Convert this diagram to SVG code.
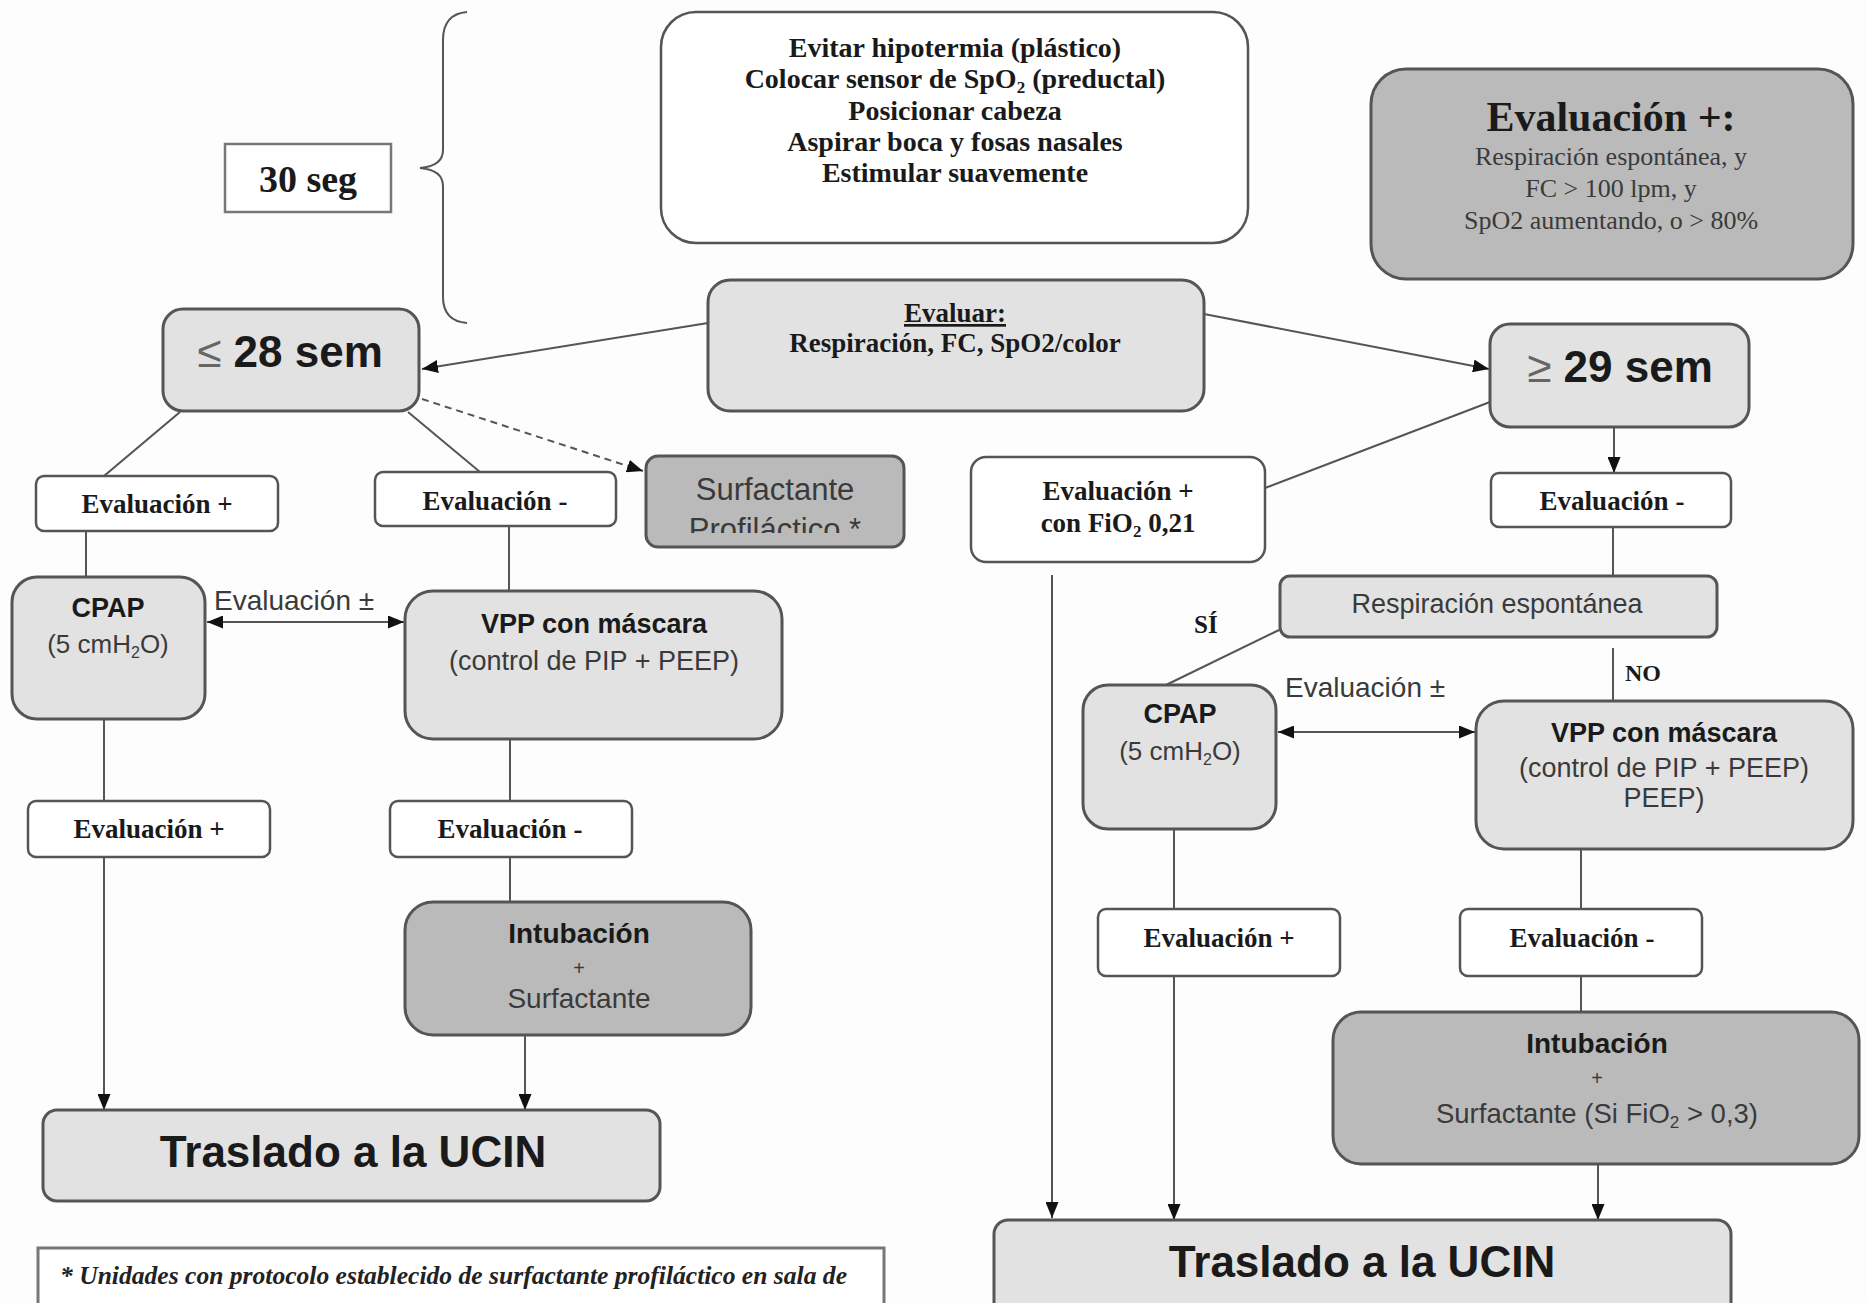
<svg xmlns="http://www.w3.org/2000/svg" width="1866" height="1303" viewBox="0 0 1866 1303">
<style>
.bg{fill:#fdfdfd}
.w{fill:#ffffff;stroke:#555;stroke-width:2.5}
.l{fill:#e2e2e2;stroke:#555;stroke-width:3}
.d{fill:#bababa;stroke:#555;stroke-width:3}
.c{fill:none;stroke:#555;stroke-width:2}
.sb{font-family:"Liberation Serif",serif;font-weight:bold;fill:#1a1a1a;text-anchor:middle}
.sr{font-family:"Liberation Serif",serif;fill:#3a3a3a;text-anchor:middle}
.nb{font-family:"Liberation Sans",Arial,sans-serif;font-weight:bold;fill:#1a1a1a;text-anchor:middle}
.nr{font-family:"Liberation Sans",Arial,sans-serif;fill:#3a3a3a;text-anchor:middle}
.st{text-anchor:start}
</style>
<defs>
<marker id="ah" viewBox="0 0 16 13" refX="16" refY="6.5" markerWidth="16" markerHeight="13" markerUnits="userSpaceOnUse" orient="auto-start-reverse">
<path d="M0,0 L16,6.5 L0,13 z" fill="#111"/>
</marker>
<clipPath id="clipSurf"><rect x="646" y="456" width="258" height="77"/></clipPath>
</defs>
<rect class="bg" x="0" y="0" width="1866" height="1303"/>

<g id="connectors">
<path class="c" d="M467,12 Q443,14 443,40 L443,150 Q443,166 420,168 Q443,170 443,186 L443,297 Q443,321 467,323"/>
<line class="c" x1="708" y1="323" x2="422" y2="369" marker-end="url(#ah)"/>
<line class="c" x1="1204" y1="314" x2="1489" y2="369" marker-end="url(#ah)"/>
<line class="c" x1="180" y1="412" x2="104" y2="476"/>
<line class="c" x1="408" y1="412" x2="480" y2="472"/>
<line class="c" x1="422" y1="399" x2="643" y2="471" stroke-dasharray="7,5" marker-end="url(#ah)"/>
<line class="c" x1="86" y1="531" x2="86" y2="577"/>
<line class="c" x1="509" y1="526" x2="509" y2="591"/>
<line class="c" x1="207" y1="622" x2="404" y2="622" stroke-width="3" marker-start="url(#ah)" marker-end="url(#ah)"/>
<line class="c" x1="104" y1="719" x2="104" y2="801"/>
<line class="c" x1="510" y1="739" x2="510" y2="801"/>
<line class="c" x1="104" y1="857" x2="104" y2="1110" marker-end="url(#ah)"/>
<line class="c" x1="510" y1="857" x2="510" y2="902"/>
<line class="c" x1="525" y1="1035" x2="525" y2="1110" marker-end="url(#ah)"/>
<line class="c" x1="1490" y1="402" x2="1265" y2="488"/>
<line class="c" x1="1614" y1="427" x2="1614" y2="473" marker-end="url(#ah)"/>
<line class="c" x1="1613" y1="527" x2="1613" y2="576"/>
<line class="c" x1="1279" y1="630" x2="1166" y2="685"/>
<line class="c" x1="1613" y1="648" x2="1613" y2="701"/>
<line class="c" x1="1278" y1="732" x2="1475" y2="732" stroke-width="3" marker-start="url(#ah)" marker-end="url(#ah)"/>
<line class="c" x1="1174" y1="829" x2="1174" y2="909"/>
<line class="c" x1="1581" y1="849" x2="1581" y2="909"/>
<line class="c" x1="1174" y1="976" x2="1174" y2="1220" marker-end="url(#ah)"/>
<line class="c" x1="1581" y1="976" x2="1581" y2="1012"/>
<line class="c" x1="1598" y1="1164" x2="1598" y2="1220" marker-end="url(#ah)"/>
<line class="c" x1="1052" y1="575" x2="1052" y2="1218" marker-end="url(#ah)"/>
</g>

<g id="n-30seg">
<rect x="225" y="144" width="166" height="68" fill="#fff" stroke="#777" stroke-width="2.5"/>
<text class="sb" x="308" y="192" font-size="38">30 seg</text>
</g>

<g id="n-pasos">
<rect class="w" x="661" y="12" width="587" height="231" rx="35"/>
<text class="sb" font-size="28" x="955" y="57">Evitar hipotermia (plástico)</text>
<text class="sb" font-size="28" x="955" y="88">Colocar sensor de  SpO<tspan font-size="17" dy="5">2</tspan><tspan dy="-5"> (preductal)</tspan></text>
<text class="sb" font-size="28" x="955" y="120">Posicionar cabeza</text>
<text class="sb" font-size="28" x="955" y="151">Aspirar boca y fosas nasales</text>
<text class="sb" font-size="28" x="955" y="182">Estimular suavemente</text>
</g>

<g id="n-evalpos">
<rect class="d" x="1371" y="69" width="482" height="210" rx="35"/>
<text class="sb" font-size="42" x="1611" y="131">Evaluación +:</text>
<text class="sr" font-size="26" x="1611" y="165">Respiración espontánea, y</text>
<text class="sr" font-size="26" x="1611" y="197">FC &gt; 100 lpm, y</text>
<text class="sr" font-size="26" x="1611" y="229">SpO2 aumentando, o &gt; 80%</text>
</g>

<g id="n-evaluar">
<rect class="l" x="708" y="280" width="496" height="131" rx="22"/>
<text class="sb" font-size="27" x="955" y="322" text-decoration="underline">Evaluar:</text>
<text class="sb" font-size="27" x="955" y="352">Respiración, FC, SpO2/color</text>
</g>

<g id="n-le28">
<rect class="l" x="163" y="309" width="256" height="102" rx="20"/>
<text class="nb" font-size="44" x="290" y="367"><tspan font-weight="normal" fill="#666">≤</tspan> 28 sem</text>
</g>

<g id="n-ge29">
<rect class="l" x="1490" y="324" width="259" height="103" rx="20"/>
<text class="nb" font-size="44" x="1620" y="382"><tspan font-weight="normal" fill="#666">≥</tspan> 29 sem</text>
</g>

<g id="n-evalplus-l1">
<rect class="w" x="36" y="476" width="242" height="55" rx="8"/>
<text class="sb" font-size="27" x="157" y="513">Evaluación +</text>
</g>

<g id="n-evalminus-l1">
<rect class="w" x="375" y="472" width="241" height="54" rx="8"/>
<text class="sb" font-size="27" x="495" y="510">Evaluación -</text>
</g>

<g id="n-surfprof">
<rect class="d" x="646" y="456" width="258" height="91" rx="12"/>
<text class="nr" font-size="31" x="775" y="500">Surfactante</text>
<text class="nr" font-size="31" x="775" y="540" clip-path="url(#clipSurf)">Profiláctico *</text>
</g>

<g id="n-cpap-l">
<rect class="l" x="12" y="577" width="193" height="142" rx="25"/>
<text class="nb" font-size="27" x="108" y="617">CPAP</text>
<text class="nr" font-size="26" x="108" y="653">(5 cmH<tspan font-size="16" dy="5">2</tspan><tspan dy="-5">O)</tspan></text>
</g>

<g id="n-vpp-l">
<rect class="l" x="405" y="591" width="377" height="148" rx="28"/>
<text class="nb" font-size="27" x="594" y="633">VPP con máscara</text>
<text class="nr" font-size="27" x="594" y="670">(control de PIP + PEEP)</text>
</g>

<g id="lbl-evalpm-l">
<text class="nr st" font-size="28" x="214" y="610">Evaluación ±</text>
</g>

<g id="n-evalplus-l2">
<rect class="w" x="28" y="801" width="242" height="56" rx="8"/>
<text class="sb" font-size="27" x="149" y="838">Evaluación +</text>
</g>

<g id="n-evalminus-l2">
<rect class="w" x="390" y="801" width="242" height="56" rx="8"/>
<text class="sb" font-size="27" x="510" y="838">Evaluación -</text>
</g>

<g id="n-intub-l">
<rect class="d" x="405" y="902" width="346" height="133" rx="28"/>
<text class="nb" font-size="28" x="579" y="943" fill="#2a2a2a">Intubación</text>
<text class="nr" font-size="20" x="579" y="975">+</text>
<text class="nr" font-size="28" x="579" y="1008">Surfactante</text>
</g>

<g id="n-traslado-l">
<rect class="l" x="43" y="1110" width="617" height="91" rx="14"/>
<text class="nb" font-size="44" x="353" y="1167">Traslado a la UCIN</text>
</g>

<g id="n-footnote">
<rect x="38" y="1248" width="846" height="80" fill="#fff" stroke="#777" stroke-width="3"/>
<text x="60" y="1284" font-family="'Liberation Serif',serif" font-style="italic" font-weight="bold" font-size="25" fill="#222" textLength="787" lengthAdjust="spacingAndGlyphs">* Unidades con protocolo establecido de surfactante profiláctico en sala de</text>
</g>

<g id="n-evalfio2">
<rect class="w" x="971" y="457" width="294" height="105" rx="15"/>
<text class="sb" font-size="27" x="1118" y="500">Evaluación +</text>
<text class="sb" font-size="27" x="1118" y="532">con FiO<tspan font-size="17" dy="5">2</tspan><tspan dy="-5"> 0,21</tspan></text>
</g>

<g id="n-evalminus-r1">
<rect class="w" x="1491" y="473" width="240" height="54" rx="8"/>
<text class="sb" font-size="27" x="1612" y="510">Evaluación -</text>
</g>

<g id="n-resp">
<rect class="l" x="1280" y="576" width="437" height="61" rx="10"/>
<text class="nr" font-size="27" x="1497" y="613">Respiración espontánea</text>
</g>

<g id="lbl-si">
<text class="sb st" font-size="25" x="1194" y="633">SÍ</text>
</g>
<g id="lbl-no">
<text class="sb st" font-size="24" x="1625" y="681">NO</text>
</g>

<g id="n-cpap-r">
<rect class="l" x="1083" y="685" width="193" height="144" rx="25"/>
<text class="nb" font-size="27" x="1180" y="723">CPAP</text>
<text class="nr" font-size="26" x="1180" y="760">(5 cmH<tspan font-size="16" dy="5">2</tspan><tspan dy="-5">O)</tspan></text>
</g>

<g id="lbl-evalpm-r">
<text class="nr st" font-size="28" x="1285" y="697">Evaluación ±</text>
</g>

<g id="n-vpp-r">
<rect class="l" x="1476" y="701" width="377" height="148" rx="28"/>
<text class="nb" font-size="27" x="1664" y="742">VPP con máscara</text>
<text class="nr" font-size="27" x="1664" y="777">(control de PIP + PEEP)</text>
<text class="nr" font-size="27" x="1664" y="807">PEEP)</text>
</g>

<g id="n-evalplus-r2">
<rect class="w" x="1098" y="909" width="242" height="67" rx="8"/>
<text class="sb" font-size="27" x="1219" y="947">Evaluación +</text>
</g>

<g id="n-evalminus-r2">
<rect class="w" x="1460" y="909" width="242" height="67" rx="8"/>
<text class="sb" font-size="27" x="1582" y="947">Evaluación -</text>
</g>

<g id="n-intub-r">
<rect class="d" x="1333" y="1012" width="526" height="152" rx="28"/>
<text class="nb" font-size="28" x="1597" y="1053" fill="#2a2a2a">Intubación</text>
<text class="nr" font-size="20" x="1597" y="1085">+</text>
<text class="nr" font-size="27.5" x="1597" y="1123">Surfactante (Si FiO<tspan font-size="17" dy="5">2</tspan><tspan dy="-5"> &gt; 0,3)</tspan></text>
</g>

<g id="n-traslado-r">
<rect class="l" x="994" y="1220" width="737" height="100" rx="14"/>
<text class="nb" font-size="44" x="1362" y="1277">Traslado a la UCIN</text>
</g>
</svg>
